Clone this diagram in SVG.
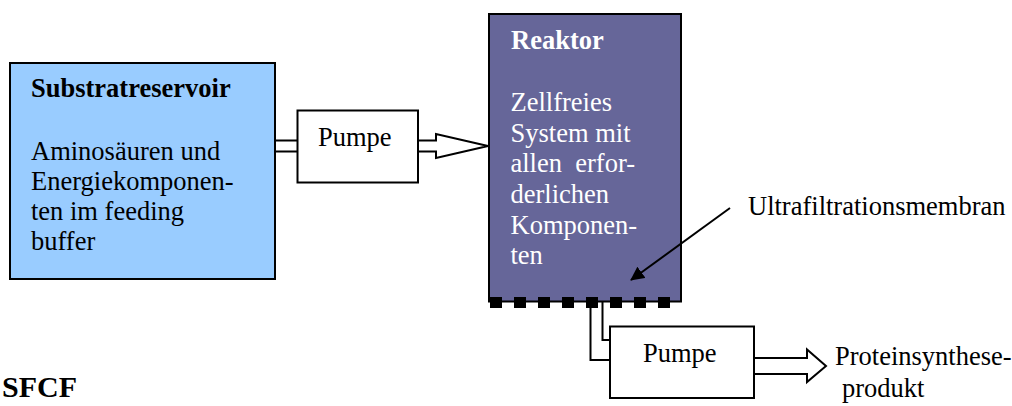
<svg xmlns="http://www.w3.org/2000/svg" width="1012" height="406" viewBox="0 0 1012 406">
<defs>
<style>
text{font-family:"Liberation Serif","Times New Roman",serif;font-size:26.5px;fill:#000}
.w{fill:#fff}
.b{font-weight:bold}
.ln{fill:none;stroke:#000;stroke-width:2}
.box{stroke:#000;stroke-width:2}
</style>
<marker id="ah" markerWidth="14" markerHeight="14" refX="13" refY="7" orient="auto" markerUnits="userSpaceOnUse" viewBox="0 0 14 14">
<path d="M0,0 L14,7 L0,14 z" fill="#000"/>
</marker>
</defs>
<rect width="1012" height="406" fill="#fff"/>
<g id="substratreservoir">
<rect class="box" x="10" y="63" width="265" height="216" fill="#99ccff"/>
<text class="b" x="31" y="97">Substratreservoir</text>
<text x="31" y="160">Aminosäuren und</text>
<text x="31" y="190">Energiekomponen-</text>
<text x="31" y="220">ten im feeding</text>
<text x="31" y="250">buffer</text>
</g>
<g id="pumpe1">
<rect class="box" x="297.5" y="110.5" width="120.5" height="72" fill="#fff"/>
<text x="318" y="146">Pumpe</text>
</g>
<g id="reaktor">
<rect class="box" x="489" y="14" width="192" height="287.5" fill="#666699"/>
<text class="w b" x="511" y="49">Reaktor</text>
<text class="w" x="510.5" y="111">Zellfreies</text>
<text class="w" x="510.5" y="142">System mit</text>
<text class="w" x="510.5" y="172" xml:space="preserve">allen  erfor-</text>
<text class="w" x="510.5" y="203">derlichen</text>
<text class="w" x="510.5" y="234">Komponen-</text>
<text class="w" x="510.5" y="264">ten</text>
<g fill="#000">
<rect x="490" y="297" width="12" height="11"/>
<rect x="514" y="297" width="12" height="11"/>
<rect x="538" y="297" width="12" height="11"/>
<rect x="562" y="297" width="12" height="11"/>
<rect x="586" y="297" width="12" height="11"/>
<rect x="610" y="297" width="12" height="11"/>
<rect x="634" y="297" width="12" height="11"/>
<rect x="658" y="297" width="12" height="11"/>
</g>
</g>
<g id="membran-label">
<text x="748" y="215">Ultrafiltrationsmembran</text>
</g>
<g id="pumpe2">
<rect class="box" x="610" y="326.5" width="144" height="71.5" fill="#fff"/>
<text x="643" y="362">Pumpe</text>
</g>
<g id="produkt">
<text x="835" y="365">Proteinsynthese-</text>
<text x="842" y="397">produkt</text>
</g>
<g id="sfcf">
<text class="b" x="2" y="397" style="font-size:30px">SFCF</text>
</g>
<g id="connectors">
<path class="ln" d="M275,140.5 H297.5 M275,151.5 H297.5"/>
<path class="ln" d="M418,140.5 H436 V134 L488,146 L436,158 V151.5 H418" fill="#fff"/>
<path class="ln" d="M590.5,308 V360 H610 M602.5,301.5 V340 H610"/>
<path class="ln" d="M754,358 H807 V349.5 L826,366 L807,382 V374 H754" fill="#fff"/>
<line x1="730" y1="208" x2="631" y2="280" stroke="#000" stroke-width="2" marker-end="url(#ah)"/>
</g>
</svg>
